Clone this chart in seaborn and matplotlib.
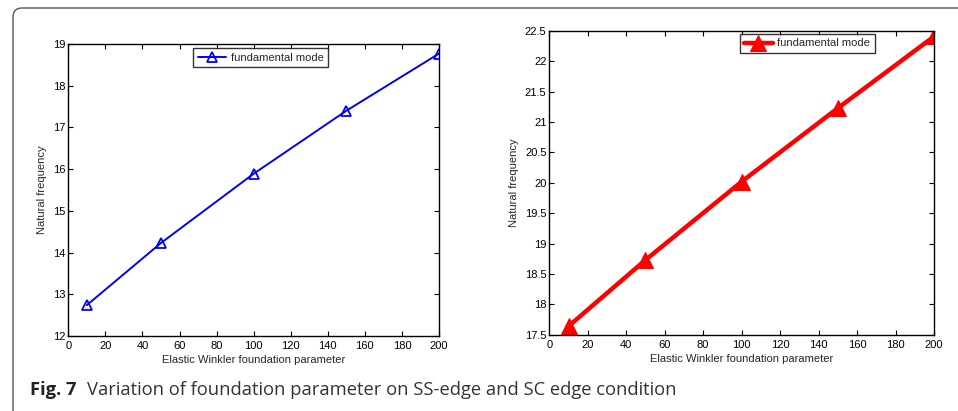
import numpy as np
import pandas as pd
import seaborn as sns
import matplotlib as mpl
mpl.use("Agg")
import matplotlib.pyplot as plt
from matplotlib.patches import FancyBboxPatch
from matplotlib.transforms import IdentityTransform

# foundation parameter values
k_values = [10, 50, 100, 150, 200]
freq_ss = [12.74, 14.23, 15.89, 17.40, 18.77]   # SS-edge
freq_sc = [17.64, 18.73, 20.02, 21.23, 22.41]   # SC edge
legend_label = "fundamental mode"
x_label = "Elastic Winkler foundation parameter"
y_label = "Natural frequency"
x_ticks = [0, 20, 40, 60, 80, 100, 120, 140, 160, 180, 200]
yticks_ss = [12, 13, 14, 15, 16, 17, 18, 19]
yticks_sc = [17.5, 18, 18.5, 19, 19.5, 20, 20.5, 21, 21.5, 22, 22.5]

sns.set_style("ticks")
plt.rcParams['font.family'] = ['Liberation Sans', 'DejaVu Sans']

df = pd.DataFrame({"k": k_values, "ss": freq_ss, "sc": freq_sc})

fig = plt.figure(figsize=(9.58, 4.11), dpi=100)

# outer frame of the figure panel (rounded corner, cut off right/bottom)
box = FancyBboxPatch((13, -60), 1100, 403 + 60, boxstyle="round,pad=0,rounding_size=9",
                     transform=IdentityTransform(), facecolor="none",
                     edgecolor="#555555", linewidth=1.0)
fig.patches.append(box)

ax1 = fig.add_axes([68.3 / 958, 75 / 411, 370.7 / 958, 292 / 411])
ax2 = fig.add_axes([549.3 / 958, 76.3 / 411, 384.7 / 958, 303.7 / 411])

sns.lineplot(data=df, x="k", y="ss", ax=ax1, color="blue", linewidth=1.4,
             marker="^", markersize=7, markerfacecolor="none",
             markeredgecolor="blue", markeredgewidth=1.3, label=legend_label)
sns.lineplot(data=df, x="k", y="sc", ax=ax2, color="red", linewidth=3.2,
             marker="^", markersize=11, markerfacecolor="red",
             markeredgecolor="red", label=legend_label)

for ax, yt, anchor in [(ax1, yticks_ss, (0.519, 0.985)), (ax2, yticks_sc, (0.67, 0.99))]:
    ax.set_xlim(0, 200)
    ax.set_ylim(yt[0], yt[-1])
    ax.set_xticks(x_ticks)
    ax.set_yticks(yt)
    ax.set_yticklabels([("%g" % v) for v in yt])
    ax.tick_params(direction="in", top=True, right=True, length=3.5, width=0.8,
                   labelsize=8, pad=2, colors="black")
    ax.tick_params(axis="x", pad=3.5)
    for s in ax.spines.values():
        s.set_linewidth(1.0)
        s.set_color("black")
    ax.set_xlabel(x_label, fontsize=8, labelpad=3)
    ax.set_ylabel(y_label, fontsize=8, labelpad=4)
    leg = ax.legend(loc="upper center", bbox_to_anchor=anchor, fontsize=8,
                    fancybox=False, frameon=True, edgecolor="black",
                    borderpad=0.4, handlelength=2.6, handletextpad=0.4,
                    borderaxespad=0)
    leg.get_frame().set_linewidth(1.0)

# caption
fig.text(30 / 958, 21 / 411, "Fig. 7", family=["Open Sans", "DejaVu Sans"],
         fontweight="bold", fontsize=13.2, color="#222222", va="center")
fig.text(87 / 958, 21 / 411,
         "Variation of foundation parameter on SS-edge and SC edge condition",
         family=["Open Sans", "DejaVu Sans"], fontsize=13.2, color="#333333",
         va="center")

fig.savefig("out.png", dpi=100)
